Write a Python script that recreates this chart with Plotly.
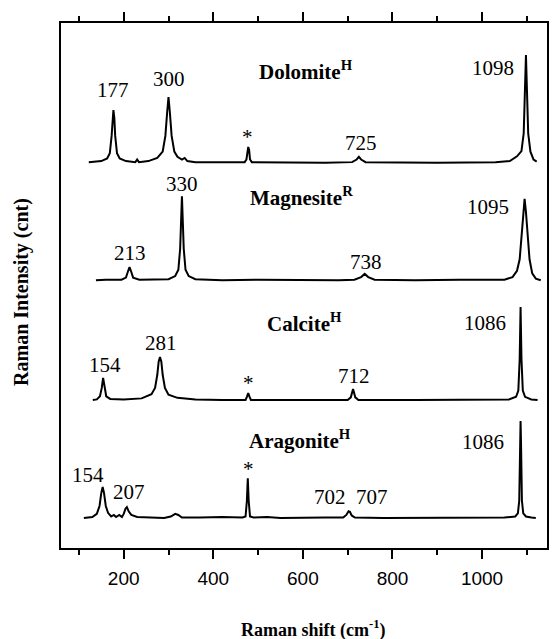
import plotly.graph_objects as go

# ---- data (y in arbitrary stacked-intensity units) ----
dolomite_x = [122, 150, 163, 169, 173, 175, 177, 179, 181, 185, 191, 205, 226, 230, 234, 255, 275, 287, 293, 297, 300, 303, 307, 313, 320, 330, 336, 342, 360, 420, 470, 474, 476, 478, 480, 482, 486, 560, 650, 710, 720, 725, 730, 740, 900, 1030, 1062, 1078, 1088, 1093, 1096, 1098, 1100, 1103, 1108, 1115, 1122]
dolomite_y = [73.5, 73.7, 74.2, 75.2, 78.5, 82.0, 83.4, 82.0, 78.5, 75.2, 74.2, 73.7, 73.5, 74.0, 73.5, 73.7, 74.3, 75.5, 78.5, 83.0, 85.9, 83.0, 78.5, 75.5, 74.5, 74.0, 74.3, 73.7, 73.5, 73.5, 73.5, 74.0, 75.8, 76.4, 75.8, 74.0, 73.5, 73.4, 73.4, 73.5, 74.0, 74.5, 74.0, 73.5, 73.4, 73.5, 73.7, 74.6, 75.6, 79.0, 88.0, 93.9, 88.0, 79.0, 75.5, 74.0, 73.6]

magnesite_x = [138, 160, 195, 205, 210, 213, 216, 221, 235, 270, 300, 315, 322, 326, 328, 330, 332, 334, 338, 345, 360, 420, 500, 600, 680, 715, 730, 738, 746, 760, 850, 950, 1030, 1050, 1068, 1078, 1084, 1088, 1092, 1095, 1098, 1102, 1106, 1112, 1120, 1131]
magnesite_y = [51.0, 51.1, 51.1, 51.5, 52.8, 53.5, 52.8, 51.5, 51.1, 51.1, 51.2, 51.8, 53.0, 57.0, 62.0, 67.0, 62.0, 57.0, 53.0, 51.8, 51.2, 51.0, 51.1, 51.0, 51.0, 51.1, 51.6, 52.2, 51.6, 51.1, 51.0, 51.1, 51.0, 51.1, 51.6, 52.8, 55.0, 59.0, 64.0, 66.5, 64.0, 59.0, 55.0, 52.3, 51.3, 51.0]

calcite_x = [131, 140, 147, 151, 154, 157, 161, 170, 200, 240, 262, 270, 275, 278, 281, 284, 287, 292, 300, 320, 360, 420, 472, 475, 478, 481, 484, 560, 650, 700, 707, 712, 717, 724, 850, 1000, 1060, 1076, 1081, 1084, 1086, 1088, 1091, 1096, 1110, 1124]
calcite_y = [28.2, 28.3, 28.9, 30.5, 32.4, 30.5, 28.9, 28.4, 28.3, 28.5, 29.3, 30.5, 33.0, 35.5, 36.4, 35.5, 33.0, 30.5, 29.2, 28.6, 28.3, 28.2, 28.2, 28.8, 29.5, 28.8, 28.2, 28.2, 28.2, 28.2, 28.7, 30.3, 28.7, 28.2, 28.2, 28.2, 28.3, 28.8, 30.0, 36.0, 45.9, 36.0, 30.0, 28.8, 28.3, 28.2]

aragonite_x = [111, 130, 140, 146, 150, 153, 156, 160, 165, 172, 178, 183, 190, 196, 200, 204, 207, 211, 217, 230, 260, 290, 305, 315, 322, 330, 370, 420, 465, 472, 475, 477, 479, 482, 490, 520, 550, 600, 650, 690, 697, 702, 705, 709, 716, 780, 900, 1050, 1074, 1080, 1083, 1085, 1086, 1087, 1089, 1092, 1098, 1110, 1120]
aragonite_y = [5.7, 5.9, 6.5, 8.0, 10.5, 11.6, 10.5, 8.0, 6.7, 6.0, 6.3, 5.9, 6.3, 5.9, 6.5, 7.5, 7.8, 7.0, 6.3, 5.9, 5.8, 5.7, 6.0, 6.5, 6.3, 5.8, 5.8, 5.9, 5.8, 6.0, 9.0, 13.3, 9.0, 6.0, 5.8, 5.9, 5.7, 5.8, 5.8, 5.8, 6.3, 7.0, 6.9, 6.2, 5.8, 5.7, 5.7, 5.8, 6.0, 6.6, 9.0, 20.0, 24.2, 20.0, 9.0, 6.6, 6.0, 5.8, 5.7]

# peak labels: (text, x, y)
peak_labels = [
    ("177", 176, 87.2), ("300", 302, 89.3), ("*", 476, 78.3), ("725", 729, 77.1), ("1098", 1024, 91.4),
    ("213", 213, 56.2), ("330", 331, 69.3), ("738", 740, 54.5), ("1095", 1013, 65.0),
    ("154", 158, 34.9), ("281", 284, 39.0), ("*", 478, 31.4), ("712", 713, 32.8), ("1086", 1006, 42.9),
    ("154", 120, 13.9), ("207", 211, 10.7), ("*", 478, 15.0), ("702  707", 707, 9.7), ("1086", 1002, 20.2),
]
mineral_names = [
    ("Dolomite<sup>H</sup>", 607, 91.0),
    ("Magnesite<sup>R</sup>", 598, 67.0),
    ("Calcite<sup>H</sup>", 604, 42.9),
    ("Aragonite<sup>H</sup>", 593, 20.6),
]

fig = go.Figure()
for xs, ys in [(dolomite_x, dolomite_y), (magnesite_x, magnesite_y),
               (calcite_x, calcite_y), (aragonite_x, aragonite_y)]:
    fig.add_trace(go.Scatter(x=xs, y=ys, mode="lines",
                             line=dict(color="black", width=2),
                             showlegend=False, hoverinfo="skip"))

serif = "Liberation Serif, Times New Roman, serif"
for t, x, y in peak_labels:
    fig.add_annotation(x=x, y=y, text=t, showarrow=False,
                       font=dict(family=serif, size=21, color="black"),
                       xanchor="center", yanchor="middle")
for t, x, y in mineral_names:
    fig.add_annotation(x=x, y=y, text="<b>" + t + "</b>", showarrow=False,
                       font=dict(family=serif, size=21, color="black"),
                       xanchor="center", yanchor="middle")

fig.add_annotation(xref="paper", yref="paper", x=-0.08, y=0.488,
                   text="<b>Raman Intensity (cnt)</b>", textangle=-90,
                   showarrow=False, xanchor="center", yanchor="middle",
                   font=dict(family=serif, size=20, color="black"))
fig.add_annotation(xref="paper", yref="paper", x=0.52, y=-0.154,
                   text="<b>Raman shift (cm<sup>-1</sup>)</b>",
                   showarrow=False, xanchor="center", yanchor="middle",
                   font=dict(family=serif, size=18, color="black"))

fig.update_layout(
    width=557, height=639,
    margin=dict(l=61, r=8, t=23, b=91),
    paper_bgcolor="white", plot_bgcolor="white",
    xaxis=dict(range=[60, 1145], tick0=0, dtick=200, ticks="outside", ticklen=9,
               tickwidth=1.5, tickcolor="black", showline=True, linecolor="black",
               linewidth=2, mirror="allticks", showgrid=False, zeroline=False,
               ticklabelstandoff=3,
               tickfont=dict(family="Liberation Sans, Arial, sans-serif", size=19, color="black"),
               minor=dict(dtick=100, tick0=0, ticks="outside", ticklen=5,
                          tickwidth=1.5, tickcolor="black", showgrid=False)),
    yaxis=dict(range=[0, 100], showticklabels=False, ticks="", showline=True,
               linecolor="black", linewidth=2, mirror=True, showgrid=False,
               zeroline=False),
)

fig.write_html("out.html")
